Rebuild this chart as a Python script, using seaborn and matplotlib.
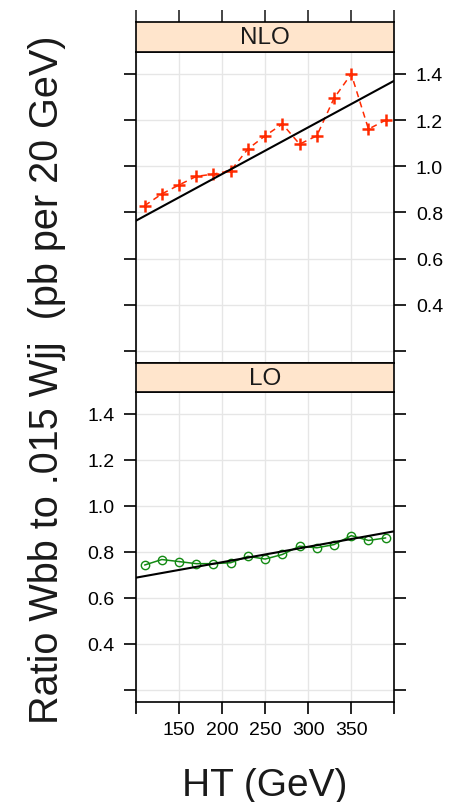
import matplotlib
matplotlib.use("Agg")
import matplotlib.pyplot as plt
import numpy as np
import pandas as pd
import seaborn as sns

# ---------------- data ----------------
HT = [110, 130, 150, 170, 190, 210, 230, 250, 270, 290, 310, 330, 350, 370, 390]
NLO_RATIO = [0.829, 0.880, 0.919, 0.956, 0.966, 0.981, 1.075, 1.132, 1.183,
             1.096, 1.132, 1.295, 1.400, 1.161, 1.200]
LO_RATIO = [0.742, 0.766, 0.757, 0.748, 0.748, 0.752, 0.780, 0.768, 0.788,
            0.824, 0.817, 0.831, 0.870, 0.849, 0.860]
NLO_FIT = (0.5617, 0.002023)   # intercept, slope
LO_FIT = (0.6197, 0.000673)    # intercept, slope
PANELS = ["NLO", "LO"]
X_TICKS = [100, 150, 200, 250, 300, 350, 400]
X_TICK_LABELS = ["", "150", "200", "250", "300", "350", ""]
Y_TICKS = [0.2, 0.4, 0.6, 0.8, 1.0, 1.2, 1.4]
Y_TICK_LABELS = ["", "0.4", "0.6", "0.8", "1.0", "1.2", "1.4"]
XLABEL = "HT (GeV)"
YLABEL = "Ratio Wbb to .015 Wjj  (pb per 20 GeV)"

# ---------------- style ----------------
sns.set_style("white")
plt.rcParams['font.family'] = ['Liberation Sans', 'DejaVu Sans']

W, H = 452, 803
fig = plt.figure(figsize=(W / 100, H / 100), dpi=100)


def rect(l, t, r, b):
    return [l / W, 1 - b / H, (r - l) / W, (b - t) / H]


XL, XR = 136, 394.3
ax_nlo = fig.add_axes(rect(XL, 53.3, XR, 364))
ax_lo = fig.add_axes(rect(XL, 393.3, XR, 702.7))
st_nlo = fig.add_axes(rect(XL, 22.7, XR, 53.3))
st_lo = fig.add_axes(rect(XL, 364, XR, 393.3))

RED = "#FF2A00"
GREEN = "#138A13"
STRIP = "#FFE5CC"
XLIM = (100, 400)
YLIM = (0.147, 1.494)

df_nlo = pd.DataFrame({"HT": HT, "ratio": NLO_RATIO})
df_lo = pd.DataFrame({"HT": HT, "ratio": LO_RATIO})

sns.lineplot(data=df_nlo, x="HT", y="ratio", ax=ax_nlo, color=RED,
             linestyle=(0, (4, 3)), lw=1.1, marker="+", markersize=9,
             markeredgewidth=1.8, markeredgecolor=RED, zorder=3)
sns.lineplot(data=df_lo, x="HT", y="ratio", ax=ax_lo, color=GREEN,
             lw=1.1, marker="o", markersize=6, markerfacecolor="none",
             markeredgewidth=1.0, markeredgecolor=GREEN, zorder=3)

ax_nlo.axline((0, NLO_FIT[0]), slope=NLO_FIT[1], color="black", lw=1.5, zorder=4)
ax_lo.axline((0, LO_FIT[0]), slope=LO_FIT[1], color="black", lw=1.5, zorder=4)

for ax in (ax_nlo, ax_lo):
    ax.set_xlim(*XLIM)
    ax.set_ylim(*YLIM)
    ax.set_xlabel("")
    ax.set_ylabel("")
    ax.set_xticks(X_TICKS)
    ax.set_yticks(Y_TICKS)
    ax.set_yticklabels(Y_TICK_LABELS)
    ax.set_xticklabels(X_TICK_LABELS)
    ax.grid(True, color="#E6E6E6", lw=1.0)
    ax.set_axisbelow(True)
    for s in ax.spines.values():
        s.set_visible(True)
        s.set_color("black")
        s.set_linewidth(1.2)
    ax.tick_params(axis="y", direction="out", length=8.5, width=1.2,
                   left=True, right=True, labelsize=14, pad=7, colors="black")
    ax.tick_params(axis="x", direction="out", length=8.6, width=1.2,
                   labelsize=14, pad=5, colors="black")

ax_nlo.tick_params(axis="y", labelleft=False, labelright=True)
ax_nlo.tick_params(axis="x", bottom=False, top=False, labelbottom=False)
ax_lo.tick_params(axis="y", labelleft=True, labelright=False)
ax_lo.tick_params(axis="x", bottom=True, top=False, labelbottom=True)

for st, name in zip((st_nlo, st_lo), PANELS):
    st.set_facecolor(STRIP)
    st.set_xlim(*XLIM)
    st.set_yticks([])
    for s in st.spines.values():
        s.set_color("black")
        s.set_linewidth(1.2)
    st.text(0.5, 0.5, name, ha="center", va="center", fontsize=17.5,
            transform=st.transAxes, color="#1a1a1a")

st_nlo.set_xticks(X_TICKS)
st_nlo.tick_params(axis="x", bottom=False, top=True, labelbottom=False,
                   labeltop=False, direction="out", length=9, width=1.2)
st_lo.set_xticks([])

fig.text(265 / W, 1 - 796.5 / H, XLABEL, ha="center", va="baseline",
         fontsize=28, color="#1a1a1a")
fig.text(47 / W, 1 - 379.5 / H, YLABEL, ha="center", va="center",
         rotation=90, fontsize=28.5, color="#1a1a1a")

fig.savefig("out.png", dpi=100)
